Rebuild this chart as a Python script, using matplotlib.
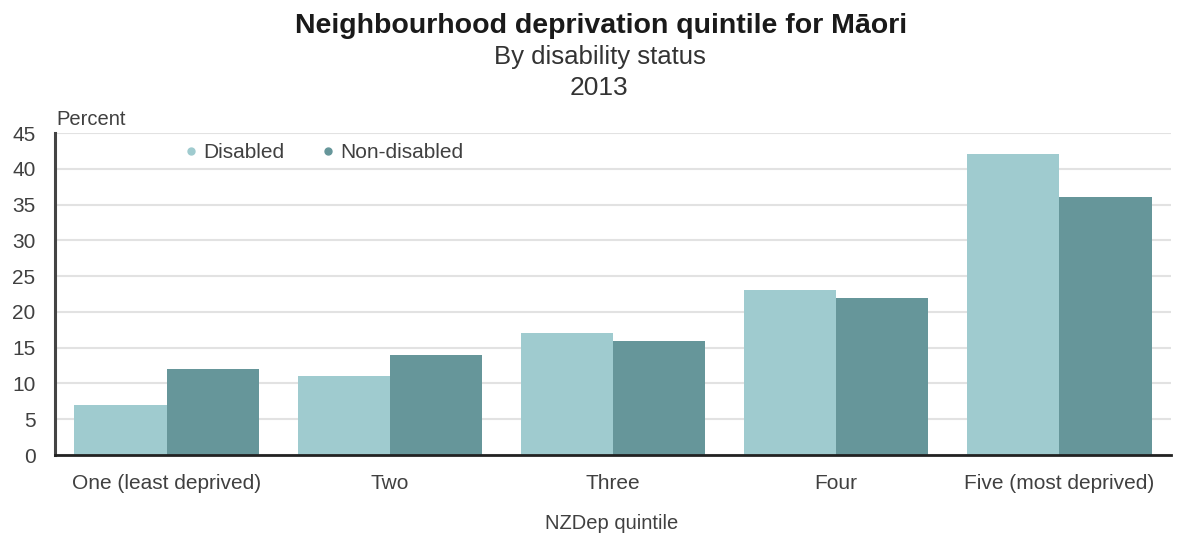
import numpy as np
import matplotlib.pyplot as plt
from matplotlib.lines import Line2D

plt.rcParams["font.family"] = ["Liberation Sans", "DejaVu Sans"]

categories = ["One (least deprived)", "Two", "Three", "Four", "Five (most deprived)"]
disabled = [7, 11, 17, 23, 42]
non_disabled = [12, 14, 16, 22, 36]

light = "#9fcbcf"
dark = "#66969a"
txt = "#404040"

fig = plt.figure(figsize=(11.79, 5.37), dpi=100)
ax = fig.add_axes([0.0466, 0.1527, 0.9466, 0.5996])

x = np.arange(len(categories))
w = 0.413
ax.bar(x - w / 2, disabled, w, color=light, zorder=2)
ax.bar(x + w / 2, non_disabled, w, color=dark, zorder=2)

ax.set_xlim(-0.5, 4.5)
ax.set_ylim(0, 45)
ax.set_yticks(range(0, 50, 5))
ax.set_xticks(x)
ax.set_xticklabels(categories, fontsize=15, color=txt)
ax.tick_params(axis="y", labelsize=15, colors=txt, length=0, pad=14)
ax.tick_params(axis="x", length=0, pad=14)
ax.grid(axis="y", color="#e2e2e2", linewidth=1.5, zorder=0)

for s in ["top", "right"]:
    ax.spines[s].set_visible(False)
ax.spines["left"].set_color("#444444")
ax.spines["left"].set_linewidth(2.2)
ax.spines["bottom"].set_color("#222222")
ax.spines["bottom"].set_linewidth(2)

fig.text(0.51, 0.952, "Neighbourhood deprivation quintile for Māori",
         ha="center", va="center", fontsize=20.5, fontweight="bold", color="#1a1a1a")
fig.text(0.509, 0.893, "By disability status", ha="center", va="center",
         fontsize=18.5, color="#333333")
fig.text(0.508, 0.836, "2013", ha="center", va="center", fontsize=19, color="#333333")

fig.text(0.048, 0.778, "Percent", ha="left", va="center", fontsize=14.5, color=txt)
fig.text(0.519, 0.026, "NZDep quintile", ha="center", va="center", fontsize=14.5, color=txt)

handles = [
    Line2D([], [], marker="o", linestyle="none", markersize=5, color=light, label="Disabled"),
    Line2D([], [], marker="o", linestyle="none", markersize=5, color=dark, label="Non-disabled"),
]
ax.legend(handles=handles, loc="center left", bbox_to_anchor=(0.103, 0.94), ncol=2,
          frameon=False, fontsize=15, handletextpad=0.0, columnspacing=1.5,
          handlelength=1.2, labelcolor=txt, borderaxespad=0)

fig.savefig("out.png", dpi=100)
